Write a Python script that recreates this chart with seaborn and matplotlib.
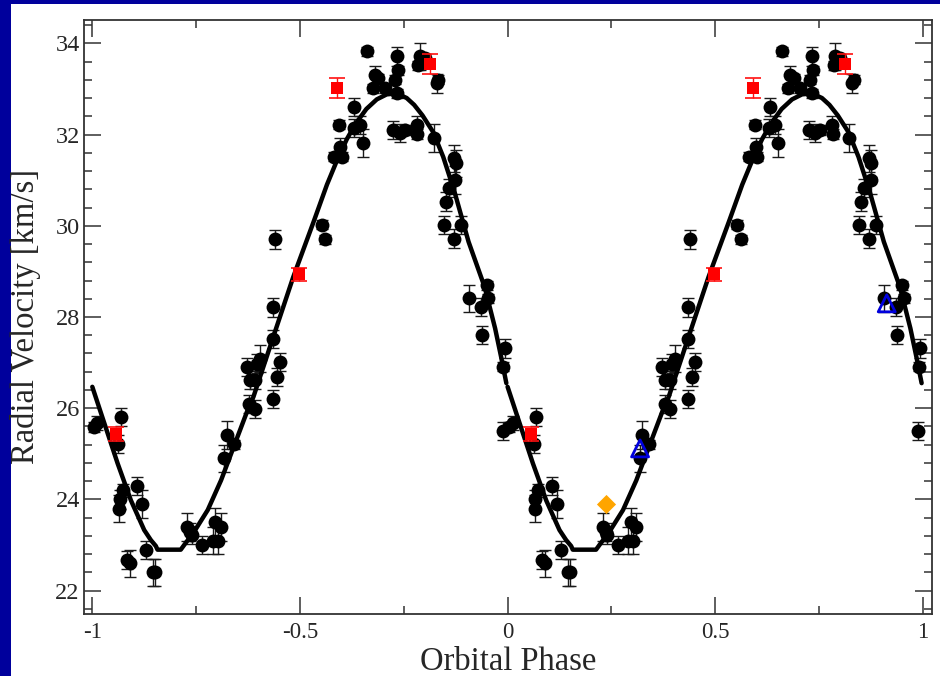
import numpy as np
import pandas as pd
import matplotlib
matplotlib.use("Agg")
import matplotlib.pyplot as plt
import seaborn as sns
from matplotlib.patches import Rectangle
from matplotlib.ticker import MultipleLocator

# ---------------- data (one orbital cycle, phase in [0,1)) ----------------
rv_phase = [0.003, 0.012, 0.069, 0.063, 0.073, 0.067, 0.065, 0.107, 0.120, 0.083,
            0.091, 0.129, 0.145, 0.150, 0.229, 0.236, 0.239, 0.265, 0.290, 0.302,
            0.296, 0.310, 0.324, 0.318, 0.340, 0.378, 0.372, 0.380, 0.392, 0.392,
            0.404, 0.396, 0.435, 0.445, 0.451, 0.434, 0.435, 0.440, 0.553, 0.561,
            0.581, 0.601, 0.597, 0.661, 0.631, 0.595, 0.629, 0.645, 0.652, 0.681,
            0.689, 0.675, 0.705, 0.733, 0.735, 0.729, 0.733, 0.725, 0.740, 0.753,
            0.781, 0.783, 0.788, 0.785, 0.801, 0.830, 0.833, 0.822, 0.870, 0.876,
            0.874, 0.858, 0.852, 0.847, 0.870, 0.888, 0.907, 0.950, 0.954, 0.936,
            0.938, 0.994, 0.990, 0.988]
rv_vel = [25.59, 25.67, 25.80, 25.21, 24.20, 24.00, 23.80, 24.29, 23.90, 22.68,
          22.60, 22.89, 22.40, 22.40, 23.40, 23.29, 23.22, 23.00, 23.10, 23.10,
          23.51, 23.40, 25.41, 24.90, 25.21, 26.10, 26.91, 26.62, 25.99, 26.62,
          27.09, 26.98, 26.21, 26.69, 27.02, 27.51, 28.21, 29.70, 30.02, 29.70,
          31.51, 31.51, 31.73, 33.82, 32.61, 32.21, 32.14, 32.21, 31.81, 33.30,
          33.23, 33.01, 33.01, 33.71, 33.41, 33.20, 32.90, 32.10, 32.03, 32.10,
          32.21, 32.01, 33.71, 33.52, 33.67, 33.12, 33.20, 31.92, 31.48, 31.37,
          31.00, 30.82, 30.53, 30.02, 29.72, 30.02, 28.41, 28.70, 28.41, 28.22,
          27.60, 27.31, 26.91, 25.50]
rv_err = [0.10, 0.15, 0.20, 0.20, 0.15, 0.20, 0.30, 0.20, 0.30, 0.20,
          0.30, 0.20, 0.30, 0.30, 0.30, 0.20, 0.20, 0.20, 0.30, 0.30,
          0.30, 0.30, 0.30, 0.30, 0.10, 0.20, 0.20, 0.20, 0.20, 0.20,
          0.30, 0.20, 0.20, 0.20, 0.20, 0.20, 0.20, 0.20, 0.10, 0.10,
          0.10, 0.10, 0.20, 0.10, 0.20, 0.10, 0.20, 0.20, 0.30, 0.20,
          0.10, 0.10, 0.10, 0.20, 0.10, 0.10, 0.10, 0.20, 0.20, 0.10,
          0.20, 0.10, 0.30, 0.10, 0.10, 0.20, 0.10, 0.30, 0.30, 0.30,
          0.30, 0.20, 0.20, 0.20, 0.20, 0.20, 0.30, 0.10, 0.10, 0.20,
          0.20, 0.20, 0.10, 0.20]

red_phase = [0.057, 0.497, 0.590, 0.813]
red_vel = [25.43, 28.94, 33.01, 33.54]
red_err = [0.15, 0.14, 0.22, 0.22]

tri_phase = [0.319, 0.913]
tri_vel = [25.12, 28.30]

dia_phase = [0.237]
dia_vel = [23.90]

curve_phase = [0.000, 0.029, 0.061, 0.093, 0.125, 0.141, 0.153, 0.157, 0.213, 0.221,
               0.245, 0.278, 0.310, 0.342, 0.374, 0.388, 0.436, 0.484, 0.533, 0.565,
               0.590, 0.613, 0.635, 0.660, 0.685, 0.709, 0.733, 0.757, 0.775, 0.795,
               0.821, 0.845, 0.872, 0.906, 0.945, 0.970, 0.985, 0.997]
curve_vel = [26.47, 25.67, 24.79, 23.98, 23.33, 23.11, 22.98, 22.90, 22.90, 23.00,
             23.29, 23.77, 24.42, 25.19, 25.96, 26.25, 27.57, 28.88, 30.09, 30.90,
             31.45, 31.90, 32.25, 32.56, 32.77, 32.88, 32.90, 32.80, 32.65, 32.42,
             32.05, 31.51, 30.75, 29.65, 28.65, 27.75, 27.10, 26.55]

x_ticks = [-1, -0.5, 0, 0.5, 1]
x_ticklabels = ["-1", "-0.5", "0", "0.5", "1"]
y_ticks = [22, 24, 26, 28, 30, 32, 34]
y_ticklabels = ["22", "24", "26", "28", "30", "32", "34"]

# ---------------- tables (two cycles: phase-1 and phase) ----------------
rv = pd.DataFrame({"phase": rv_phase, "vel": rv_vel, "err": rv_err})
rv2 = pd.concat([rv.assign(phase=rv.phase - 1), rv], ignore_index=True)
red = pd.DataFrame({"phase": red_phase, "vel": red_vel, "err": red_err})
red2 = pd.concat([red.assign(phase=red.phase - 1), red], ignore_index=True)
tri = pd.DataFrame({"phase": tri_phase, "vel": tri_vel})
dia = pd.DataFrame({"phase": dia_phase, "vel": dia_vel})
crv = pd.DataFrame({"phase": curve_phase, "vel": curve_vel})

# ---------------- style ----------------
sns.set_style("ticks")
SERIF = ["Liberation Serif", "DejaVu Serif"]
plt.rcParams["font.family"] = SERIF
plt.rcParams["mathtext.fontset"] = "stix"

fig = plt.figure(figsize=(9.4, 6.76), dpi=100)
fig.patch.set_facecolor("#00009c")
fig.add_artist(Rectangle((11 / 940, 0), 929 / 940, 672 / 676,
                         transform=fig.transFigure, facecolor="white",
                         edgecolor="none", zorder=-10))
ax = fig.add_axes([84 / 940, 62 / 676, 848 / 940, 594 / 676])
ax.set_facecolor("white")

# error bars
ax.errorbar(rv2.phase, rv2.vel, yerr=rv2.err, fmt="none", ecolor="#1a1a1a",
            elinewidth=1.0, capsize=4.2, capthick=1.0, zorder=2)
ax.errorbar(red2.phase, red2.vel, yerr=red2.err, fmt="none", ecolor="#ff1010",
            elinewidth=1.0, capsize=6, capthick=1.2, zorder=4)

# markers
sns.scatterplot(data=rv2, x="phase", y="vel", ax=ax, color="black", s=100,
                linewidth=0, marker="o", zorder=2.5, legend=False)
# model curve
for shift in (-1, 0):
    c = crv.assign(phase=crv.phase + shift)
    sns.lineplot(data=c, x="phase", y="vel", ax=ax, sort=False, estimator=None,
                 color="black", linewidth=3.2, zorder=3, legend=False)
sns.scatterplot(data=red2, x="phase", y="vel", ax=ax, color="#ff0000", s=70,
                linewidth=0, marker="s", zorder=4, legend=False)
sns.scatterplot(data=tri, x="phase", y="vel", ax=ax, marker="^", s=150,
                facecolor="none", edgecolor="#0000dd", linewidth=2, zorder=5,
                legend=False)
sns.scatterplot(data=dia, x="phase", y="vel", ax=ax, marker="D", s=95,
                color="#ffa500", linewidth=0, zorder=5, legend=False)

# axes
ax.set_xlim(-1.02, 1.022)
ax.set_ylim(21.49, 34.51)
ax.set_xticks(x_ticks)
ax.set_xticklabels(x_ticklabels, fontfamily=SERIF, fontsize=16.5)
ax.set_yticks(y_ticks)
ax.set_yticklabels(y_ticklabels, fontfamily=SERIF, fontsize=17.5)
ax.xaxis.set_minor_locator(MultipleLocator(0.25))
ax.yaxis.set_minor_locator(MultipleLocator(0.4))
ax.tick_params(which="both", direction="in", top=True, right=True,
               labeltop=False, labelright=False, color="#333333", width=1.1)
ax.tick_params(which="major", length=12)
ax.tick_params(which="minor", length=6)
ax.tick_params(axis="x", which="major", pad=6)
ax.tick_params(axis="y", which="major", pad=3)
for s in ax.spines.values():
    s.set_linewidth(1.3)
    s.set_color("#333333")

ax.set_xlabel("Orbital Phase", fontsize=23.5, labelpad=2, fontfamily=SERIF)
ax.set_ylabel("Radial Velocity [km/s]", fontsize=23.5, labelpad=10, fontfamily=SERIF)

fig.savefig("out.png", dpi=100, facecolor=fig.get_facecolor())
